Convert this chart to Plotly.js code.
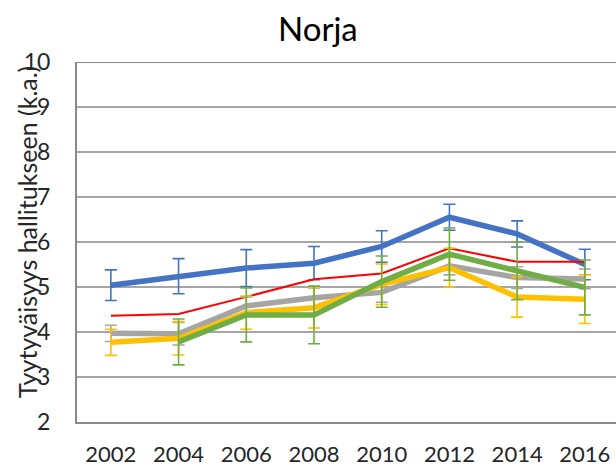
<!DOCTYPE html>
<html>
<head>
<meta charset="utf-8">
<script src="https://cdn.plot.ly/plotly-3.0.1.min.js"></script>
<style>html,body{margin:0;padding:0;background:#fff}#chart{width:616px;height:468px}</style>
</head>
<body>
<div id="chart"></div>
<script>
const years = ["2002","2004","2006","2008","2010","2012","2014","2016"];

const blueVals  = [5.04, 5.24, 5.42, 5.53, 5.90, 6.55, 6.18, 5.50];
const blueErr   = [0.34, 0.39, 0.41, 0.37, 0.35, 0.29, 0.29, 0.34];

const redVals   = [4.36, 4.40, 4.78, 5.17, 5.30, 5.86, 5.56, 5.56];

const grayVals  = [3.97, 3.96, 4.58, 4.76, 4.88, 5.47, 5.21, 5.18];
const grayErr   = [0.18, 0.25, 0.20, 0.22, 0.22, 0.20, 0.24, 0.22];

const yellowVals = [3.77, 3.86, 4.43, 4.54, 5.06, 5.43, 4.78, 4.73];
const yellowErr  = [0.29, 0.37, 0.37, 0.45, 0.45, 0.43, 0.45, 0.54];

const greenVals = [null, 3.78, 4.38, 4.38, 5.12, 5.73, 5.36, 4.99];
const greenErr  = [null, 0.51, 0.60, 0.64, 0.57, 0.58, 0.64, 0.61];

const yTicks = [2,3,4,5,6,7,8,9,10];

function series(vals, err, color, width, name) {
  const t = {
    x: years, y: vals, type: 'scatter', mode: 'lines', name: name,
    line: {color: color, width: width}, connectgaps: false, hoverinfo: 'x+y'
  };
  if (err) {
    t.error_y = {type: 'data', array: err, visible: true, color: color, thickness: 1.6, width: 6};
  }
  return t;
}

const data = [
  series(blueVals, blueErr, '#4472C4', 5.5, 'A'),
  series(redVals, null, '#FF0000', 2, 'B'),
  series(grayVals, grayErr, '#A5A5A5', 5.5, 'C'),
  series(yellowVals, yellowErr, '#FFC000', 5.5, 'D'),
  series(greenVals, greenErr, '#70AD47', 5.5, 'E')
];

const layout = {
  width: 616, height: 468,
  margin: {l: 77, r: 0, t: 62, b: 46, pad: 0},
  paper_bgcolor: '#fff', plot_bgcolor: '#fff',
  showlegend: false,
  font: {family: 'Lato, "Open Sans", sans-serif', color: '#262626'},
  title: {
    text: 'Norja', font: {size: 33, color: '#000', family: 'Lato, sans-serif'},
    xref: 'container', x: 0.516, xanchor: 'center',
    yref: 'container', y: 0.938, yanchor: 'middle'
  },
  xaxis: {
    type: 'category', range: [-0.5, 7.46],
    showgrid: false, zeroline: false,
    showline: true, linecolor: '#898989', linewidth: 2,
    ticks: 'outside', ticklen: 12, tickcolor: 'rgba(0,0,0,0)',
    tickfont: {size: 22, color: '#262626'},
    fixedrange: true
  },
  yaxis: {
    range: [2, 10], tickvals: yTicks, ticktext: yTicks.map(String),
    showgrid: true, gridcolor: '#A6A6A6', gridwidth: 1.5,
    zeroline: false, showline: true, linecolor: '#898989', linewidth: 2,
    ticks: '', ticklabelstandoff: 20,
    tickfont: {size: 23, color: '#262626'},
    automargin: false, fixedrange: true
  },
  annotations: [{
    text: 'Tyytyväisyys hallitukseen (k.a.)', textangle: -90,
    xref: 'paper', yref: 'paper',
    x: (27 - 77) / 539, y: (422 - 232) / 360,
    xanchor: 'center', yanchor: 'middle', showarrow: false,
    font: {size: 25, color: '#262626'}
  }],
  shapes: [{
    type: 'line', xref: 'paper', yref: 'y', x0: 0, x1: 1, y0: 10, y1: 10,
    line: {color: '#898989', width: 2}, layer: 'above'
  }]
};

Plotly.newPlot('chart', data, layout, {displayModeBar: false, staticPlot: true});
</script>
</body>
</html>
